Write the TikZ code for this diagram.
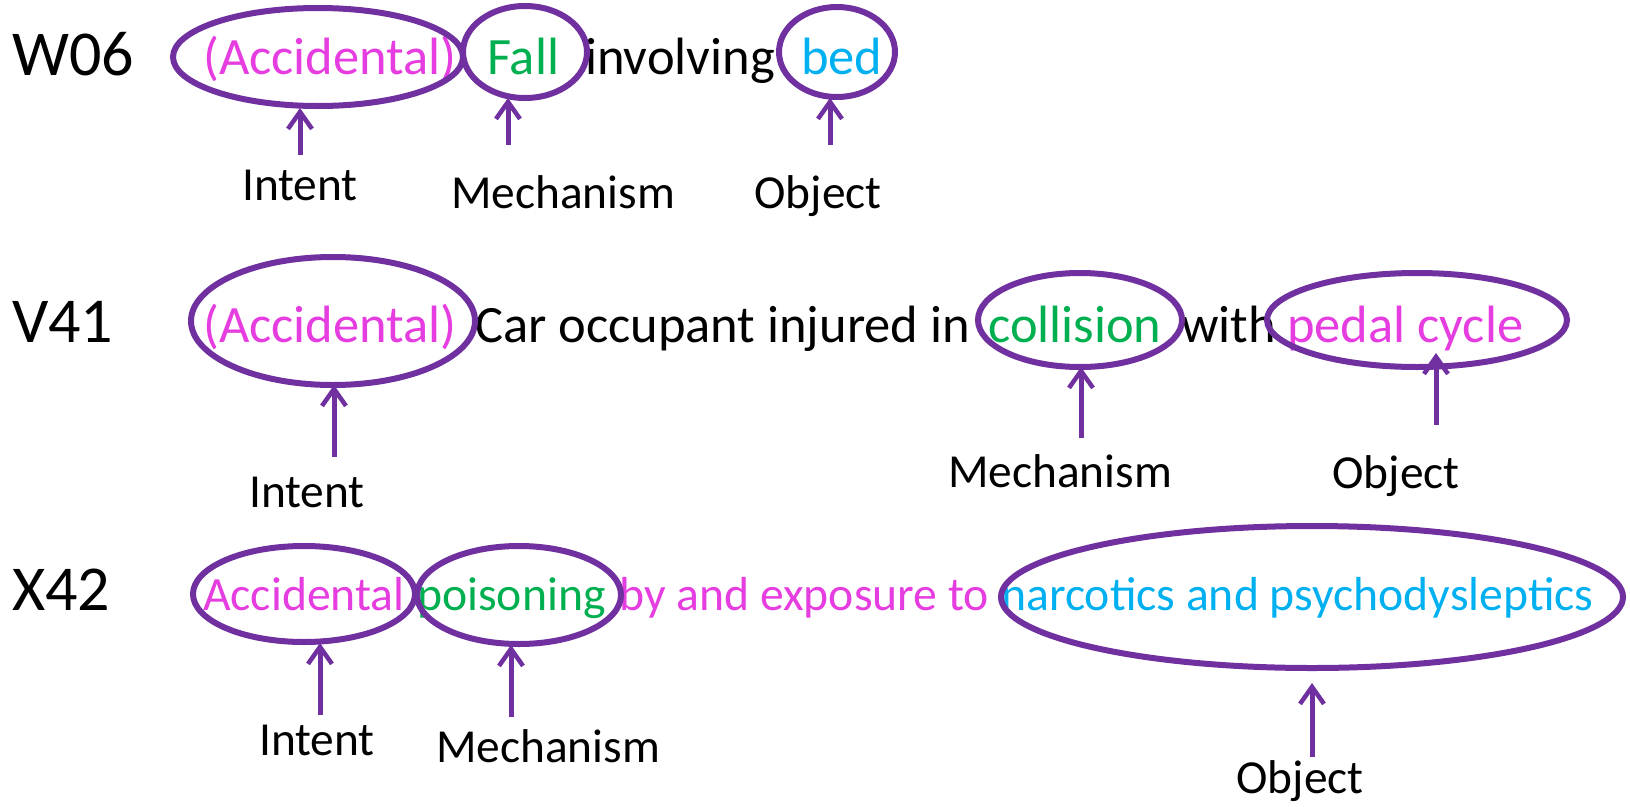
\documentclass[tikz,border=0pt]{standalone}
\usepackage{fontspec}
\setmainfont{Carlito}
\usetikzlibrary{shapes.geometric,arrows.meta}
\definecolor{pur}{HTML}{7030A0}
\definecolor{mag}{HTML}{E63DE0}
\definecolor{grn}{HTML}{00B050}
\definecolor{cyn}{HTML}{00B0F0}
\tikzset{
  code/.style={anchor=base west,inner sep=0pt,font=\fontsize{64}{70}\selectfont},
  txt/.style={anchor=base west,inner sep=0pt,font=\fontsize{52.5}{60}\selectfont},
  txtc/.style={anchor=base west,inner sep=0pt,font=\fontsize{47.7}{55}\selectfont},
  lbl/.style={anchor=base,inner sep=0pt,font=\fontsize{47.4}{55}\selectfont},
  ring/.style={ellipse,draw=pur,line width=6pt,inner sep=0pt,outer sep=0pt},
  arr/.style={draw=pur,line width=5pt,-{Straight Barb[length=17pt,width=24pt,line width=4.5pt]}}
}
\begin{document}
\begin{tikzpicture}[x=1pt,y=-1pt]
\useasboundingbox[fill=white] (0,0) rectangle (1630,806);
% ---- row 1
\node[code] (w06) at (12,75) {W06};
\node[txt,text=mag] (r1a) at (203,74) {(Accidental)};
\node[txt,text=grn] (r1b) at (487,74) {Fall};
\node[txt] (r1c) at (585,74) {involving};
\node[txt,text=cyn] (r1d) at (801,74) {bed};
\node[ring,minimum width=290,minimum height=98] (e11) at (318,57) {};
\node[ring,minimum width=124,minimum height=92] (e12) at (525,52) {};
\node[ring,minimum width=116,minimum height=90] (e13) at (837,52) {};
\node[lbl] (l11) at (300,200) {Intent};
\node[lbl] (l12) at (563,208) {Mechanism};
\node[lbl] (l13) at (818,208) {Object};
\coordinate (t11) at (300,155); \coordinate (h11) at (300,108);
\coordinate (t12) at (508,145); \coordinate (h12) at (508,98);
\coordinate (t13) at (830,145); \coordinate (h13) at (830,98);
\draw[arr] (t11) -- (h11);
\draw[arr] (t12) -- (h12);
\draw[arr] (t13) -- (h13);
% ---- row 2
\node[code] (v41) at (12,342) {V41};
\node[txt,text=mag] (r2a) at (203,342) {(Accidental)};
\node[txt] (r2b) at (475,342) {Car occupant injured in};
\node[txt,text=grn] (r2c) at (988,342) {collision};
\node[txt] (r2d) at (1181,342) {with};
\node[txt,text=mag] (r2e) at (1287,342) {pedal cycle};
\node[ring,minimum width=284,minimum height=128] (e21) at (333,321) {};
\node[ring,minimum width=204,minimum height=94] (e22) at (1080,320) {};
\node[ring,minimum width=300,minimum height=94] (e23) at (1417,320) {};
\node[lbl] (l21) at (307,507) {Intent};
\node[lbl] (l22) at (1060,487) {Mechanism};
\node[lbl] (l23) at (1396,488) {Object};
\coordinate (t21) at (334,457); \coordinate (h21) at (334,385);
\coordinate (t22) at (1081,438); \coordinate (h22) at (1081,367);
\coordinate (t23) at (1436,425); \coordinate (h23) at (1436,353);
\draw[arr] (t21) -- (h21);
\draw[arr] (t22) -- (h22);
\draw[arr] (t23) -- (h23);
% ---- row 3
\node[code] (x42) at (12,610) {X42};
\node[txtc,text=mag] (r3a) at (203,610) {Accidental};
\node[txtc,text=grn] (r3b) at (417,610) {poisoning};
\node[txtc,text=mag] (r3c) at (619,610) {by and exposure to};
\node[txtc,text=cyn] (r3d) at (1001,610) {narcotics and psychodysleptics};
\node[ring,minimum width=222,minimum height=96] (e31) at (304,594) {};
\node[ring,minimum width=204,minimum height=98] (e32) at (519,595) {};
\node[ring,minimum width=622,minimum height=142] (e33) at (1312,597) {};
\node[lbl] (l31) at (317,755) {Intent};
\node[lbl] (l32) at (548,762) {Mechanism};
\node[lbl] (l33) at (1300,793) {Object};
\coordinate (t31) at (320,715); \coordinate (h31) at (320,643);
\coordinate (t32) at (511,717); \coordinate (h32) at (511,645);
\coordinate (t33) at (1312,757); \coordinate (h33) at (1312,683);
\draw[arr] (t31) -- (h31);
\draw[arr] (t32) -- (h32);
\draw[arr] (t33) -- (h33);
\end{tikzpicture}
\end{document}
